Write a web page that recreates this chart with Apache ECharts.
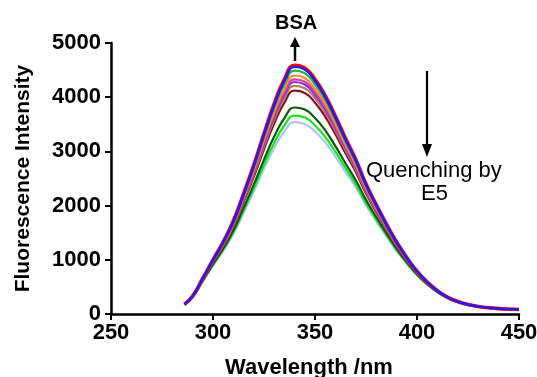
<!DOCTYPE html>
<html>
<head>
<meta charset="utf-8">
<script src="https://cdn.jsdelivr.net/npm/echarts@6/dist/echarts.min.js"></script>
<style>
  html, body { margin: 0; padding: 0; background: #fff; }
  #chart { width: 537px; height: 377px; }
</style>
</head>
<body>
<div id="chart"></div>
<script>
// wavelength (nm)
const wavelengths = [286, 290, 295, 300, 305, 310, 315, 320, 325, 330, 335, 340, 345, 350, 355, 360,
  365, 370, 375, 380, 385, 390, 395, 400, 405, 410, 415, 420, 425, 430, 435, 440, 445, 450];

// emission spectra, BSA alone (top) -> increasing E5 (bottom)
const bsaRed = [180, 330, 660, 1000, 1330, 1720, 2220, 2750, 3330, 3880, 4330, 4590, 4540, 4330, 4030, 3650,
  3240, 2850, 2400, 2020, 1660, 1330, 1040, 790, 590, 430, 310, 230, 175, 140, 115, 100, 90, 82];
const e5Blue = [180, 329, 658, 997, 1325, 1713, 2210, 2736, 3312, 3857, 4303, 4560, 4511, 4303, 4005, 3629,
  3222, 2835, 2389, 2011, 1654, 1325, 1037, 788, 589, 429, 309, 230, 175, 140, 115, 100, 90, 82];
const e5Green = [179, 328, 655, 990, 1314, 1697, 2186, 2704, 3268, 3802, 4238, 4490, 4442, 4238, 3948, 3579,
  3181, 2801, 2362, 1991, 1638, 1314, 1029, 783, 585, 427, 308, 229, 174, 139, 115, 100, 90, 82];
const e5Orange = [178, 326, 650, 981, 1300, 1676, 2156, 2662, 3213, 3732, 4156, 4400, 4353, 4156, 3874, 3515,
  3127, 2757, 2328, 1964, 1619, 1300, 1019, 776, 581, 424, 307, 228, 174, 139, 114, 99, 90, 81];
const e5Magenta = [178, 325, 646, 974, 1289, 1660, 2133, 2630, 3169, 3678, 4092, 4330, 4284, 4092, 3816, 3466,
  3086, 2723, 2302, 1944, 1604, 1290, 1012, 771, 578, 423, 305, 227, 173, 139, 114, 99, 89, 81];
const e5Purple = [178, 324, 643, 969, 1282, 1649, 2116, 2606, 3138, 3639, 4046, 4280, 4235, 4046, 3775, 3430,
  3056, 2698, 2283, 1930, 1593, 1282, 1007, 768, 576, 421, 305, 227, 173, 138, 114, 99, 89, 81];
const e5Brown = [177, 323, 639, 961, 1271, 1633, 2092, 2574, 3095, 3585, 3982, 4210, 4166, 3982, 3717, 3380,
  3015, 2664, 2256, 1909, 1577, 1271, 999, 763, 572, 419, 303, 226, 172, 138, 114, 99, 89, 81];
const e5DarkRed = [176, 321, 634, 952, 1257, 1612, 2062, 2532, 3040, 3515, 3899, 4120, 4078, 3899, 3643, 3317,
  2961, 2620, 2222, 1883, 1558, 1257, 989, 756, 568, 417, 302, 225, 172, 138, 113, 99, 89, 81];
const e5DarkGreen = [174, 315, 618, 921, 1208, 1541, 1958, 2388, 2848, 3274, 3615, 3810, 3772, 3615, 3388, 3097,
  2777, 2468, 2105, 1792, 1490, 1208, 956, 734, 554, 408, 296, 221, 169, 136, 112, 97, 88, 80];
const e5Lime = [173, 312, 609, 905, 1185, 1507, 1907, 2319, 2755, 3157, 3478, 3660, 3625, 3478, 3265, 2991,
  2689, 2395, 2049, 1749, 1458, 1185, 940, 724, 547, 403, 294, 220, 168, 135, 111, 97, 87, 80];
const e5LightBlue = [172, 310, 603, 893, 1166, 1479, 1867, 2263, 2681, 3064, 3368, 3540, 3507, 3368, 3166, 2905,
  2617, 2336, 2003, 1713, 1432, 1166, 927, 715, 542, 400, 292, 218, 167, 134, 111, 97, 87, 80];

// drawn bottom first so the top spectra sit over the others
const curves = [
  { data: e5LightBlue, color: '#a9c3ff' },
  { data: e5Lime, color: '#19e619' },
  { data: e5DarkGreen, color: '#0b5a0b' },
  { data: e5DarkRed, color: '#8a1020' },
  { data: e5Brown, color: '#a8825a' },
  { data: e5Purple, color: '#8a2be2' },
  { data: e5Magenta, color: '#d040b0' },
  { data: e5Orange, color: '#ff8c1a' },
  { data: e5Green, color: '#22b04a' },
  { data: bsaRed, color: '#ff0000', width: 3.6 },
  { data: e5Blue, color: '#1a1aff', width: 2.4 },
];

const font = 'Arial, "Liberation Sans", sans-serif';

const chart = echarts.init(document.getElementById('chart'));

chart.setOption({
  animation: false,
  backgroundColor: '#fff',
  grid: { left: 111, right: 18, top: 43, bottom: 63, containLabel: false, outerBoundsMode: 'none' },
  xAxis: {
    type: 'value',
    min: 250,
    max: 450,
    interval: 50,
    name: 'Wavelength /nm',
    nameLocation: 'middle',
    nameGap: 43,
    nameTextStyle: {
      color: '#000', fontSize: 22, fontWeight: 'bold', fontFamily: font,
      padding: [0, 12, 0, 0],
    },
    axisLine: { lineStyle: { color: '#000', width: 2.5 } },
    axisTick: { length: 6, lineStyle: { color: '#000', width: 2 } },
    axisLabel: { color: '#000', fontSize: 22, fontWeight: 'bold', fontFamily: font, margin: 8 },
    splitLine: { show: false },
  },
  yAxis: {
    type: 'value',
    min: 0,
    max: 5000,
    interval: 1000,
    name: 'Fluorescence Intensity',
    nameLocation: 'middle',
    nameGap: 77,
    nameTextStyle: { color: '#000', fontSize: 21, fontWeight: 'bold', fontFamily: font },
    axisLine: { show: true, lineStyle: { color: '#000', width: 2.5 } },
    axisTick: { show: true, length: 6, lineStyle: { color: '#000', width: 2 } },
    axisLabel: {
      color: '#000', fontSize: 22, fontWeight: 'bold', fontFamily: font, margin: 10,
      formatter: (v) => String(v),
    },
    splitLine: { show: false },
  },
  series: curves.map((c) => ({
    type: 'line',
    data: wavelengths.map((w, i) => [w, c.data[i]]),
    smooth: 0.5,
    showSymbol: false,
    lineStyle: { color: c.color, width: c.width || 2.2 },
    itemStyle: { color: c.color },
  })),
  graphic: [
    // BSA label + up arrow
    { type: 'text', left: 275, top: 13, style: { text: 'BSA', fill: '#000', font: 'bold 20px ' + font } },
    { type: 'line', shape: { x1: 295, y1: 46, x2: 295, y2: 61 }, style: { stroke: '#000', lineWidth: 2.5 } },
    { type: 'polygon', shape: { points: [[295, 37], [290, 47], [300, 47]] }, style: { fill: '#000' } },
    // quenching down arrow
    { type: 'line', shape: { x1: 427, y1: 71, x2: 427, y2: 146 }, style: { stroke: '#000', lineWidth: 2.2 } },
    { type: 'polygon', shape: { points: [[427, 157], [422, 144], [432, 144]] }, style: { fill: '#000' } },
    {
      type: 'text', left: 366, top: 160,
      style: { text: 'Quenching by', fill: '#000', font: '22px ' + font },
    },
    {
      type: 'text', left: 421, top: 183,
      style: { text: 'E5', fill: '#000', font: '22px ' + font },
    },
  ],
});
</script>
</body>
</html>
